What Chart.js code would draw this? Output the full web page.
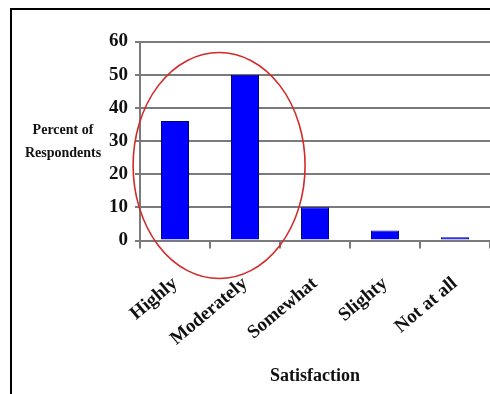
<!DOCTYPE html>
<html>
<head>
<meta charset="utf-8">
<script src="https://cdn.jsdelivr.net/npm/chart.js@4.4.0/dist/chart.umd.min.js"></script>
<style>
  html, body { margin: 0; padding: 0; background: #fff; overflow: hidden; }
  #wrap { position: relative; width: 490px; height: 394px; }
  #frame { position: absolute; left: 10px; top: 8px; width: 600px; height: 500px;
           border-left: 2px solid #000; border-top: 2px solid #000; pointer-events: none; }
  canvas { position: absolute; left: 0; top: 0; }
</style>
</head>
<body>
<div id="wrap">
  <canvas id="chart" width="490" height="394"></canvas>
  <div id="frame"></div>
</div>
<script>
const categories = ['Highly', 'Moderately', 'Somewhat', 'Slighty', 'Not at all'];
const percents = [36, 50, 10, 3, 1];
const yTicks = [0, 10, 20, 30, 40, 50, 60];
const yLabelLines = ['Percent of', 'Respondents'];
const xTitle = 'Satisfaction';

const serif = '"Liberation Serif", "Times New Roman", serif';

// Side label beside the value axis, written horizontally in two lines
const sideLabel = {
  id: 'sideLabel',
  afterDraw(chart) {
    const ctx = chart.ctx;
    const y = chart.scales.y;
    const mid = y.getPixelForValue(30);
    ctx.save();
    ctx.font = 'bold 14px ' + serif;
    ctx.fillStyle = '#111';
    ctx.textAlign = 'center';
    ctx.textBaseline = 'middle';
    ctx.fillText(yLabelLines[0], 63, mid - 11);
    ctx.fillText(yLabelLines[1], 63, mid + 12);
    ctx.restore();
  }
};

// Red ellipse circling the first two categories
const highlight = {
  id: 'highlight',
  afterDraw(chart) {
    const ctx = chart.ctx;
    const x = chart.scales.x;
    const y = chart.scales.y;
    const cx = x.getPixelForValue(0) + (x.getPixelForValue(1) - x.getPixelForValue(0)) * 0.63;
    const cy = y.getPixelForValue(22.6);
    ctx.save();
    ctx.strokeStyle = '#d42a2a';
    ctx.lineWidth = 1.6;
    ctx.beginPath();
    ctx.ellipse(cx, cy, 86, 113, 0, 0, Math.PI * 2);
    ctx.stroke();
    ctx.restore();
  }
};

new Chart(document.getElementById('chart'), {
  type: 'bar',
  data: {
    labels: categories,
    datasets: [{
      data: percents,
      backgroundColor: '#0000ff',
      borderColor: '#00007a',
      borderWidth: 1,
      barPercentage: 0.4,
      categoryPercentage: 1.0
    }]
  },
  options: {
    responsive: false,
    animation: false,
    devicePixelRatio: 1,
    layout: { padding: { left: 0, right: 0, top: 41.5, bottom: 0 } },
    plugins: { legend: { display: false }, tooltip: { enabled: false } },
    scales: {
      x: {
        offset: true,
        grid: { drawOnChartArea: false, drawTicks: true, tickLength: 8, color: '#7a7a7a', lineWidth: 2, offset: true },
        border: { color: '#7a7a7a', width: 2 },
        ticks: {
          font: { family: serif, size: 19, weight: 'bold' },
          color: '#111',
          maxRotation: 40, minRotation: 40,
          padding: 24,
          autoSkip: false
        },
        title: {
          display: true, text: xTitle,
          font: { family: serif, size: 18, weight: 'bold' },
          color: '#111',
          padding: { top: 0, bottom: 7 }
        },
        afterFit(scale) {
          scale.height = 153.5;
          scale.paddingLeft = 0;
          scale.paddingRight = 0;
        }
      },
      y: {
        min: 0, max: 60,
        afterBuildTicks(scale) { scale.ticks = yTicks.map(v => ({ value: v })); },
        grid: { color: '#7a7a7a', lineWidth: 2, tickLength: 5 },
        border: { color: '#7a7a7a', width: 2 },
        ticks: {
          font: { family: serif, size: 19, weight: 'bold' },
          color: '#111',
          padding: 7
        },
        afterFit(scale) { scale.width = 140; }
      }
    }
  },
  plugins: [sideLabel, highlight]
});
</script>
</body>
</html>
